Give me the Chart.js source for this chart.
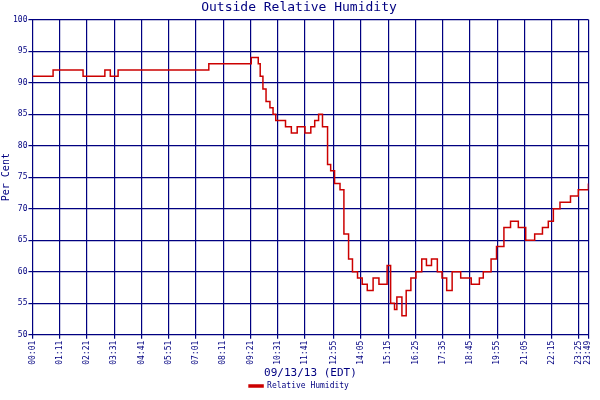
<!DOCTYPE html>
<html><head><meta charset="utf-8">
<script src="https://cdn.jsdelivr.net/npm/chart.js@4"></script>
<style>body{margin:0;background:#fff}#wrap{width:600px;height:400px}</style>
</head><body><div id="wrap"><canvas id="c"></canvas></div>
<script>
// minutes after 00:01 and humidity (%)
const minutes = [0,53,130,186,200,210,220,377,453,562,580,585,592,600,610,618,625,640,650,665,680,700,715,725,735,745,758,766,776,790,800,812,822,835,847,860,875,890,911,920,930,936,949,960,972,985,1000,1012,1025,1040,1052,1064,1078,1100,1127,1148,1158,1178,1192,1211,1228,1248,1267,1290,1310,1325,1338,1355,1382,1402,1420,1428];
const humidity = [91,92,91,92,91,91,92,92,93,94,93,91,89,87,86,85,84,84,83,82,83,82,83,84,85,83,77,76,74,73,66,62,60,59,58,57,59,58,61,55,54,56,53,57,59,60,62,61,62,60,59,57,60,59,58,59,60,62,64,67,68,67,65,66,67,68,70,71,72,73,73,74];
const tickMinutes = [0,70,140,210,280,350,420,490,560,630,700,774,844,914,984,1054,1124,1194,1264,1334,1404,1428];
const tickLabels = ['00:01','01:11','02:21','03:31','04:41','05:51','07:01','08:11','09:21','10:31','11:41','12:55','14:05','15:15','16:25','17:35','18:45','19:55','21:05','22:15','23:25','23:49'];

const navy = '#000080';
Chart.defaults.font.family = '"DejaVu Sans Mono", monospace';
Chart.defaults.font.size = 9;
Chart.defaults.color = navy;

new Chart(document.getElementById('c').getContext('2d'), {
  type: 'line',
  data: {
    datasets: [{
      label: 'Relative Humidity',
      data: minutes.map((m, i) => ({ x: m, y: humidity[i] })),
      borderColor: '#cc0000',
      backgroundColor: '#cc0000',
      borderWidth: 1.5,
      pointRadius: 0,
      stepped: true,
      fill: false
    }]
  },
  options: {
    responsive: true,
    maintainAspectRatio: false,
    animation: false,
    layout: { padding: { right: 2, left: 0 } },
    plugins: {
      title: { display: true, text: 'Outside Relative Humidity', font: { size: 13, weight: 'normal' }, padding: { top: 0, bottom: 4 } },
      legend: {
        position: 'bottom',
        labels: { boxWidth: 14, boxHeight: 2, font: { size: 8 }, padding: 2 }
      }
    },
    scales: {
      x: {
        type: 'linear', min: 0, max: 1428,
        afterBuildTicks: axis => { axis.ticks = tickMinutes.map(v => ({ value: v })); },
        ticks: {
          autoSkip: false, maxRotation: 90, minRotation: 90, font: { size: 8 }, padding: 2,
          callback: (v) => tickLabels[tickMinutes.indexOf(v)]
        },
        grid: { color: navy, lineWidth: 1.2, tickLength: 4 },
        border: { color: navy },
        title: { display: true, text: '09/13/13 (EDT)', font: { size: 11 }, padding: 0 }
      },
      y: {
        min: 50, max: 100,
        ticks: { stepSize: 5, font: { size: 8 }, padding: 1 },
        grid: { color: navy, lineWidth: 1.2, tickLength: 4 },
        border: { color: navy },
        title: { display: true, text: 'Per Cent', font: { size: 10 }, padding: 0 }
      }
    }
  }
});
</script></body></html>
